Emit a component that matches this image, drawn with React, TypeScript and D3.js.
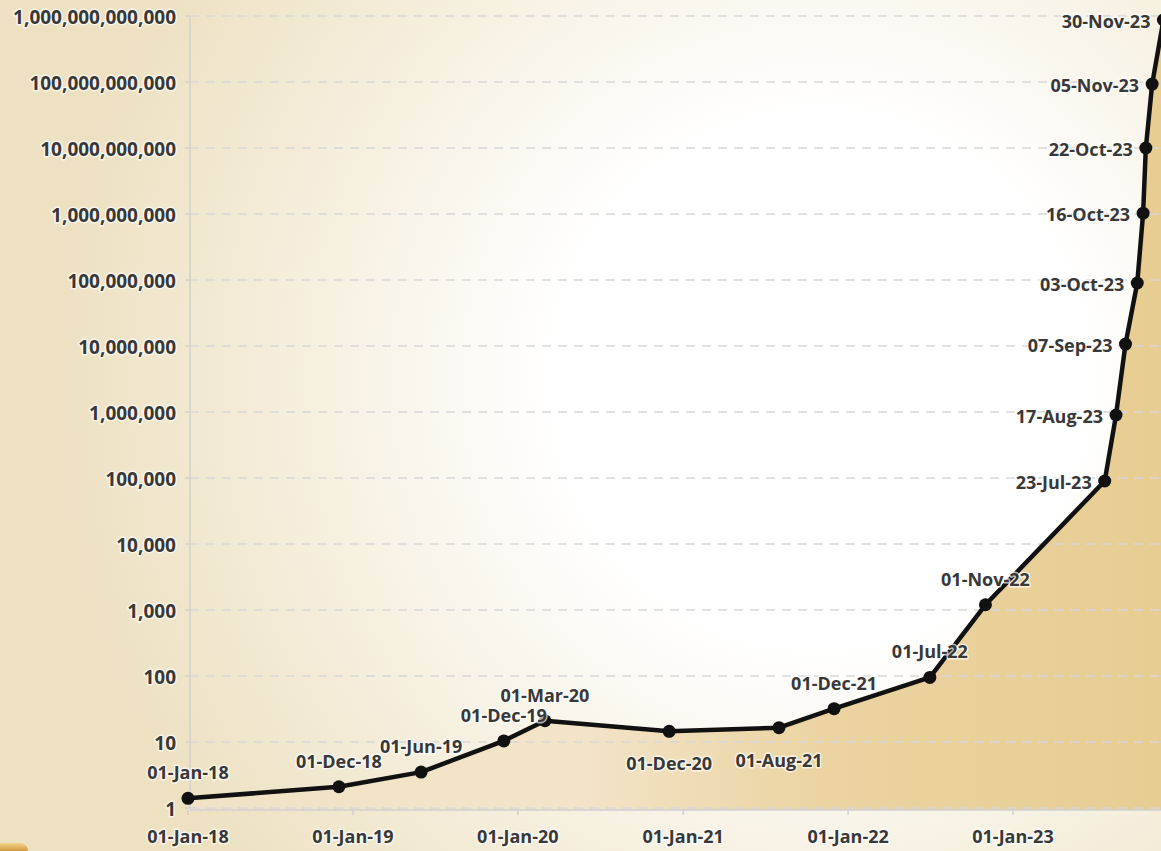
import React from "react";
import * as d3 from "d3";

const pointDates = [
  "2018-01-01", "2018-12-01", "2019-06-01", "2019-12-01", "2020-03-01",
  "2020-12-01", "2021-08-01", "2021-12-01", "2022-07-01", "2022-11-01",
  "2023-07-23", "2023-08-17", "2023-09-07", "2023-10-03", "2023-10-16",
  "2023-10-22", "2023-11-05", "2023-11-30",
];
const pointLabels = [
  "01-Jan-18", "01-Dec-18", "01-Jun-19", "01-Dec-19", "01-Mar-20",
  "01-Dec-20", "01-Aug-21", "01-Dec-21", "01-Jul-22", "01-Nov-22",
  "23-Jul-23", "17-Aug-23", "07-Sep-23", "03-Oct-23", "16-Oct-23",
  "22-Oct-23", "05-Nov-23", "30-Nov-23",
];
const pointValues = [
  1.4, 2.1, 3.5, 10.4, 21, 14.5, 16.5, 32, 95, 1200,
  9e4, 9e5, 1.07e7, 9e7, 1.03e9, 1.0e10, 9.3e10, 8.7e11,
];
const labelPlacement = [
  "above", "above", "above", "above", "above",
  "below", "below", "above", "above", "above",
  "left", "left", "left", "left", "left", "left", "left", "left",
];
const yTickValues = [1, 10, 100, 1e3, 1e4, 1e5, 1e6, 1e7, 1e8, 1e9, 1e10, 1e11, 1e12];
const xTickDates = ["2018-01-01", "2019-01-01", "2020-01-01", "2021-01-01", "2022-01-01", "2023-01-01"];
const xTickLabels = ["01-Jan-18", "01-Jan-19", "01-Jan-20", "01-Jan-21", "01-Jan-22", "01-Jan-23"];

const W = 1161;
const H = 851;
const parse = d3.utcParse("%Y-%m-%d");

export default function App() {
  const x = d3
    .scaleUtc()
    .domain([parse("2018-01-01")!, parse("2023-01-01")!])
    .range([188, 1013]);
  const y = d3.scaleLog().domain([1, 1e12]).range([808, 16]);

  const data = pointDates.map((d, i) => ({
    date: parse(d)!,
    value: pointValues[i],
    label: pointLabels[i],
    place: labelPlacement[i],
  }));

  const line = d3
    .line<(typeof data)[number]>()
    .x((d) => x(d.date))
    .y((d) => y(d.value));
  const area = d3
    .area<(typeof data)[number]>()
    .x((d) => x(d.date))
    .y0(y(1) + 2)
    .y1((d) => y(d.value));

  const fmt = d3.format(",.0f");
  const font = "'Open Sans', 'Liberation Sans', sans-serif";
  const textColor = "#383838";
  const halo = {
    stroke: "rgba(255,255,255,0.7)",
    strokeWidth: 3,
    paintOrder: "stroke" as const,
    strokeLinejoin: "round" as const,
  };

  const axisX = x.range()[0] + 2;

  return (
    <svg
      width={W}
      height={H}
      style={{ position: "absolute", left: 0, top: 0, display: "block" }}
    >
      <defs>
        <radialGradient
          id="bg"
          gradientUnits="userSpaceOnUse"
          cx={820}
          cy={380}
          r={760}
        >
          <stop offset="0" stopColor="#ffffff" />
          <stop offset="0.35" stopColor="#ffffff" />
          <stop offset="0.75" stopColor="#f4ecd8" />
          <stop offset="1" stopColor="#ede1c2" />
        </radialGradient>
        <linearGradient id="areaGrad" gradientUnits="userSpaceOnUse" x1={188} y1={0} x2={1161} y2={0}>
          <stop offset="0" stopColor="#f0e3c5" />
          <stop offset="0.4" stopColor="#f3e4c8" />
          <stop offset="0.65" stopColor="#ebd4a2" />
          <stop offset="1" stopColor="#e8cd92" />
        </linearGradient>
        <linearGradient id="gold" x1="0" y1="0" x2="0" y2="1">
          <stop offset="0" stopColor="#f3d48a" />
          <stop offset="0.5" stopColor="#c98a2a" />
          <stop offset="1" stopColor="#8a5a14" />
        </linearGradient>
      </defs>

      <rect x={0} y={0} width={W} height={H} fill="url(#bg)" />

      {/* area under curve */}
      <path d={area(data) ?? ""} fill="url(#areaGrad)" />

      {/* gridlines */}
      {yTickValues.map((v) => (
        <line
          key={"g" + v}
          x1={axisX}
          x2={W}
          y1={y(v)}
          y2={y(v)}
          stroke="#d8d8d8"
          strokeWidth={1.5}
          strokeDasharray="9,7"
        />
      ))}

      {/* y axis line */}
      <line x1={axisX} x2={axisX} y1={y(1e12)} y2={y(1)} stroke="#d0d0d0" strokeWidth={1.5} />
      {yTickValues.map((v) => (
        <line key={"yt" + v} x1={axisX - 5} x2={axisX} y1={y(v)} y2={y(v)} stroke="#d0d0d0" strokeWidth={1.5} />
      ))}
      {/* x axis line */}
      <line x1={axisX} x2={W} y1={y(1) + 2} y2={y(1) + 2} stroke="#d0d0d0" strokeWidth={1.5} />
      {xTickDates.map((d) => (
        <line
          key={"xt" + d}
          x1={x(parse(d)!)}
          x2={x(parse(d)!)}
          y1={y(1) + 2}
          y2={y(1) + 7}
          stroke="#d0d0d0"
          strokeWidth={1.5}
        />
      ))}

      {/* y tick labels */}
      {yTickValues.map((v) => (
        <text
          key={"yl" + v}
          x={176}
          y={y(v) + 1}
          textAnchor="end"
          dominantBaseline="central"
          fontFamily={font}
          fontWeight={700}
          fontSize={19}
          fill={textColor}
          {...halo}
        >
          {fmt(v)}
        </text>
      ))}

      {/* x tick labels */}
      {xTickDates.map((d, i) => (
        <text
          key={"xl" + d}
          x={x(parse(d)!)}
          y={836}
          textAnchor="middle"
          dominantBaseline="central"
          fontFamily={font}
          fontWeight={700}
          fontSize={18}
          fill={textColor}
          {...halo}
        >
          {xTickLabels[i]}
        </text>
      ))}

      {/* line */}
      <path
        d={line(data) ?? ""}
        fill="none"
        stroke="#111"
        strokeWidth={4.5}
        strokeLinejoin="round"
      />
      {data.map((d, i) => (
        <circle key={"c" + i} cx={x(d.date)} cy={y(d.value)} r={6.5} fill="#111" />
      ))}

      {/* point labels */}
      {data.map((d, i) => {
        const px = x(d.date);
        const py = y(d.value);
        let tx = px;
        let ty = py;
        let anchor: "middle" | "end" = "middle";
        if (d.place === "above") ty = py - 26;
        else if (d.place === "below") ty = py + 32;
        else {
          tx = px - 13;
          ty = py + 1;
          anchor = "end";
        }
        return (
          <text
            key={"pl" + i}
            x={tx}
            y={ty}
            textAnchor={anchor}
            dominantBaseline="central"
            fontFamily={font}
            fontWeight={700}
            fontSize={18}
            fill={textColor}
            {...halo}
          >
            {d.label}
          </text>
        );
      })}

      {/* decorative corner */}
      <rect x={-12} y={843} width={40} height={20} rx={8} fill="url(#gold)" />
    </svg>
  );
}
